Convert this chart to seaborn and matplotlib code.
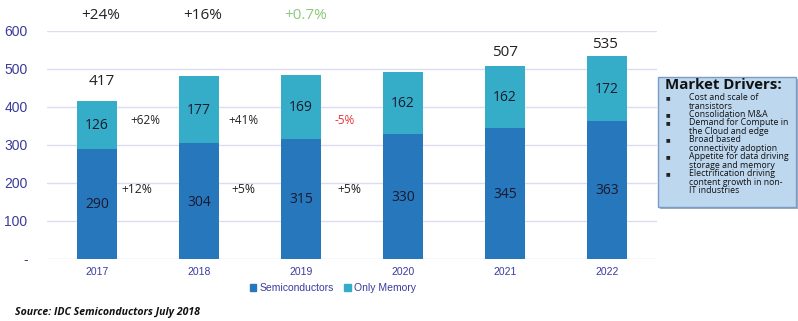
import matplotlib
matplotlib.use("Agg")
import matplotlib.pyplot as plt
import seaborn as sns
from matplotlib.patches import Patch, FancyBboxPatch

years = ["2017", "2018", "2019", "2020", "2021", "2022"]
semis = [290, 304, 315, 330, 345, 363]
memory = [126, 177, 169, 162, 162, 172]
total_labels = {0: "417", 4: "507", 5: "535"}
top_growth = ["+24%", "+16%", "+0.7%"]
mem_growth = ["+62%", "+41%", "-5%"]
semi_growth = ["+12%", "+5%", "+5%"]
yticks = [0, 100, 200, 300, 400, 500, 600]
ytick_labels = ["-", "100", "200", "300", "400", "500", "600"]
drivers = ["Cost and scale of\ntransistors",
           "Consolidation M&A",
           "Demand for Compute in\nthe Cloud and edge",
           "Broad based\nconnectivity adoption",
           "Appetite for data driving\nstorage and memory",
           "Electrification driving\ncontent growth in non-\nIT industries"]

totals = [s + m for s, m in zip(semis, memory)]

C_SEMI = "#2777BC"
C_MEM = "#35ADC8"
C_TICK = "#3A3A9E"
C_GRID = "#DCDCF2"
NUMFONT = ["Open Sans", "DejaVu Sans"]
TICKFONT = ["Liberation Sans", "DejaVu Sans"]

sns.set_theme(style="white")
plt.rcParams["font.family"] = TICKFONT

W, H = 798, 321
fig = plt.figure(figsize=(W / 100, H / 100), dpi=100)
ax = fig.add_axes([47 / W, 1 - 259 / H, (657 - 47) / W, (259 - 31) / H])

sns.barplot(x=years, y=totals, color=C_MEM, width=0.39, ax=ax, saturation=1,
            linewidth=0, edgecolor="none")
sns.barplot(x=years, y=semis, color=C_SEMI, width=0.39, ax=ax, saturation=1,
            linewidth=0, edgecolor="none")

ax.set_xlim(-0.49, 5.49)
ax.set_ylim(0, 600)
ax.set_yticks(yticks)
ax.set_yticklabels(ytick_labels)
for y in yticks:
    ax.axhline(y, color=C_GRID, lw=1, zorder=0)
ax.set_axisbelow(True)
for s in ax.spines.values():
    s.set_visible(False)
ax.tick_params(axis="y", length=0, labelsize=10, labelcolor=C_TICK, pad=14)
ax.tick_params(axis="x", length=0, labelsize=7.5, labelcolor=C_TICK, pad=6)
ax.set_xlabel("")
ax.set_ylabel("")

# value labels inside bars
for i in range(len(years)):
    ax.text(i, semis[i] / 2 - 2, str(semis[i]), ha="center", va="center",
            fontsize=10, color="#1a1a2e", family=NUMFONT)
    ax.text(i, semis[i] + memory[i] / 2 - 2, str(memory[i]), ha="center",
            va="center", fontsize=10, color="#1a1a2e", family=NUMFONT)
total_off = {0: (0.05, 31), 4: (0.0, 17), 5: (-0.02, 10)}
for i, lab in total_labels.items():
    dx, dy = total_off[i]
    ax.text(i + dx, totals[i] + dy, lab, ha="center",
            va="bottom", fontsize=11, color="#222222", family=NUMFONT)

# growth annotations
top_cols = ["#222222", "#222222", "#8CC97A"]
mem_cols = ["#222222", "#222222", "#E8303A"]
mem_dx = [0.47, 0.44, 0.43]
semi_dx = [0.39, 0.44, 0.47]
for k in range(3):
    ax.text(k + 0.04, 620, top_growth[k], ha="center", va="bottom",
            fontsize=11, color=top_cols[k], family=NUMFONT, clip_on=False)
    ax.text(k + mem_dx[k], 364, mem_growth[k], ha="center", va="center",
            fontsize=8.5, color=mem_cols[k], family=NUMFONT)
    ax.text(k + semi_dx[k], 183, semi_growth[k], ha="center",
            va="center", fontsize=8.7, color="#222222", family=NUMFONT)

# legend
handles = [Patch(color=C_SEMI, label="Semiconductors"),
           Patch(color=C_MEM, label="Only Memory")]
leg = fig.legend(handles=handles, loc="center", bbox_to_anchor=(333 / W, 1 - 288 / H),
                 ncol=2, frameon=False, fontsize=7.5, handlelength=0.6,
                 handleheight=0.6, handletextpad=0.3, columnspacing=1.0)
for t in leg.get_texts():
    t.set_color(C_TICK)

fig.text(15 / W, 1 - 313 / H, "Source: IDC Semiconductors July 2018",
         fontsize=7.6, fontweight="bold", style="italic", color="#111111",
         va="center", ha="left", family=NUMFONT)

# market drivers box
shadow = FancyBboxPatch((660 / W, 1 - 209 / H), 138 / W, 130 / H,
                        boxstyle="square,pad=0", transform=fig.transFigure,
                        facecolor="#A3AEBD", edgecolor="none", zorder=1)
box = FancyBboxPatch((658 / W, 1 - 207 / H), 138 / W, 130 / H,
                     boxstyle="square,pad=0", transform=fig.transFigure,
                     facecolor="#BDD7EE", edgecolor="#7A9CC6", lw=1, zorder=2)
fig.patches.extend([shadow, box])
fig.text(665 / W, 1 - 85 / H, "Market Drivers:", fontsize=10.8, fontweight="bold",
         color="#111111", va="center", ha="left", family=NUMFONT, zorder=3)
tops = [93, 110, 118, 135, 152, 169]
for y, d in zip(tops, drivers):
    fig.text(666 / W, 1 - (y + 2) / H, "■", fontsize=3.5, color="#222222",
             va="top", ha="left", zorder=3, family=["DejaVu Sans"])
    fig.text(689 / W, 1 - y / H, d, fontsize=6.3, color="#111111", va="top",
             ha="left", family=NUMFONT, linespacing=0.95, zorder=3)

fig.savefig("out.png", dpi=100)
